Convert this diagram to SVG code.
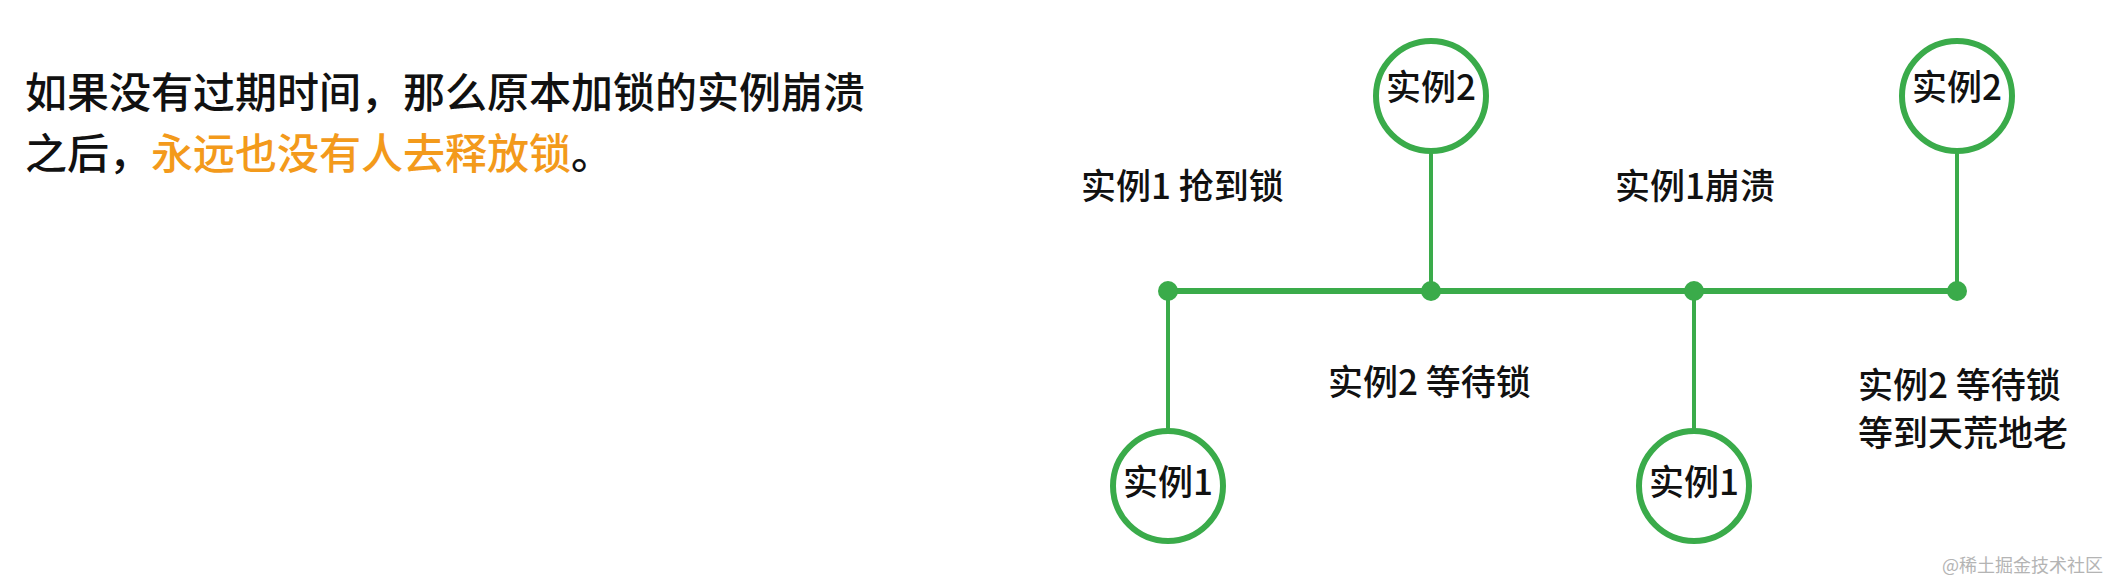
<svg xmlns="http://www.w3.org/2000/svg" width="2108" height="582" viewBox="0 0 2108 582">
<style>
.t{font-family:"Noto Sans CJK SC","Noto Sans",sans-serif;fill:#111;font-weight:500}
.lead{font-size:42px}
.orange{fill:#f39a1b}
.lbl{font-size:35px}
.mid{text-anchor:middle}
.node circle{fill:#fff;stroke:#3aab4a;stroke-width:6}
.conn line{stroke:#3aab4a;stroke-linecap:round}
.dot{fill:#3aab4a}
.wm{font-family:"Noto Sans CJK SC",sans-serif;font-size:18px;fill:#b4b4b4}
</style>
<rect width="2108" height="582" fill="#fff"/>
<text class="t lead" x="25" y="108">如果没有过期时间，那么原本加锁的实例崩溃</text>
<text class="t lead" x="25" y="169">之后，<tspan class="orange">永远也没有人去释放锁</tspan>。</text>
<g id="connectors" class="conn">
<line x1="1168" y1="291" x2="1957" y2="291" stroke-width="6"/>
<line x1="1431" y1="154" x2="1431" y2="291" stroke-width="4"/>
<line x1="1957" y1="154" x2="1957" y2="291" stroke-width="4"/>
<line x1="1168" y1="291" x2="1168" y2="428" stroke-width="4"/>
<line x1="1694" y1="291" x2="1694" y2="428" stroke-width="4"/>
<circle class="dot" cx="1168" cy="291" r="10"/>
<circle class="dot" cx="1431" cy="291" r="10"/>
<circle class="dot" cx="1694" cy="291" r="10"/>
<circle class="dot" cx="1957" cy="291" r="10"/>
</g>
<g id="n-top2a" class="node"><circle cx="1431" cy="96" r="55"/><text class="t lbl mid" x="1431" y="100">实例2</text></g>
<g id="n-top2b" class="node"><circle cx="1957" cy="96" r="55"/><text class="t lbl mid" x="1957" y="100">实例2</text></g>
<g id="n-bot1a" class="node"><circle cx="1168" cy="486" r="55"/><text class="t lbl mid" x="1168" y="495">实例1</text></g>
<g id="n-bot1b" class="node"><circle cx="1694" cy="486" r="55"/><text class="t lbl mid" x="1694" y="495">实例1</text></g>
<g id="labels">
<text class="t lbl" x="1081" y="199">实例1 抢到锁</text>
<text class="t lbl mid" x="1695" y="199">实例1崩溃</text>
<text class="t lbl" x="1328" y="395">实例2 等待锁</text>
<text class="t lbl" x="1858" y="398">实例2 等待锁</text>
<text class="t lbl" x="1858" y="446">等到天荒地老</text>
</g>
<text class="wm" x="1942" y="572">@稀土掘金技术社区</text>
</svg>
